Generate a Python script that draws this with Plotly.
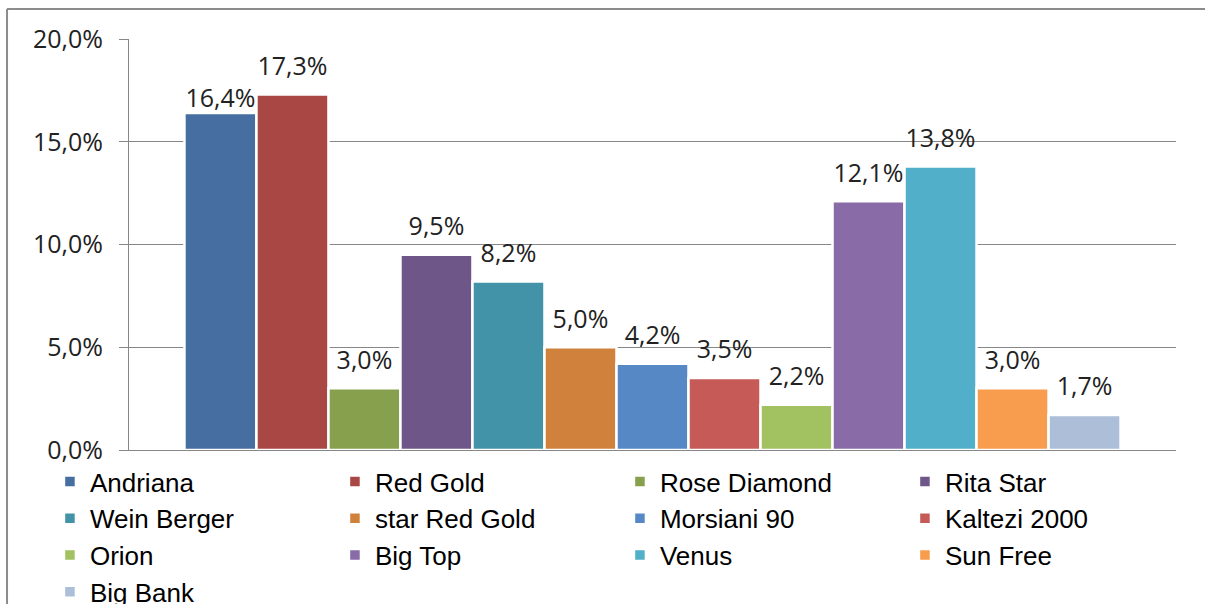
import plotly.graph_objects as go

# Share of each brand (fraction of total)
brands = ["Andriana", "Red Gold", "Rose Diamond", "Rita Star", "Wein Berger",
          "star Red Gold", "Morsiani 90", "Kaltezi 2000", "Orion", "Big Top",
          "Venus", "Sun Free", "Big Bank"]
shares = [0.164, 0.173, 0.030, 0.095, 0.082, 0.050, 0.042, 0.035, 0.022,
          0.121, 0.138, 0.030, 0.017]
colors = ["#466EA0", "#A84744", "#87A04E", "#6F5689", "#4293A8", "#D0823D",
          "#5588C4", "#C55A56", "#A2C160", "#886BA7", "#51AFC9", "#F89C4E",
          "#ADBED8"]
# invisible spacer marker size controlling how far each value label sits above its bar
label_lift = [0, 20, 20, 20, 20, 20, 20, 20, 20, 20, 20, 20, 20]

y_ticks = [0.0, 0.05, 0.10, 0.15, 0.20]
positions = list(range(len(brands)))

fig = go.Figure()
for pos, name, val, col in zip(positions, brands, shares, colors):
    fig.add_trace(go.Bar(
        x=[pos], y=[val], name=name, width=1,
        marker=dict(color=col, line=dict(color="white", width=2.5)),
    ))

# value labels above the bars
fig.add_trace(go.Scatter(
    x=positions, y=shares, mode="markers+text",
    marker=dict(size=label_lift, opacity=0),
    texttemplate="%{y:.1%}", textposition="top center",
    textfont=dict(family="Open Sans", size=25, color="#222222"),
    showlegend=False, hoverinfo="skip", cliponaxis=False,
))

grid = "#878787"
# outer chart frame (left and top edges)
fig.add_shape(type="line", xref="paper", yref="paper",
              x0=-0.1165, x1=-0.1165, y0=-0.5, y1=1.073,
              line=dict(color="#8c8c8c", width=2))
fig.add_shape(type="line", xref="paper", yref="paper",
              x0=-0.1165, x1=1.2, y0=1.073, y1=1.073,
              line=dict(color="#8c8c8c", width=2))

fig.update_layout(
    width=1205, height=604,
    margin=dict(l=129, r=29, t=39, b=154, autoexpand=False),
    paper_bgcolor="white", plot_bgcolor="white",
    separators=",.",
    barmode="overlay",
    showlegend=True,
    legend=dict(
        orientation="h", x=-0.0755, xanchor="left", y=-0.0195, yanchor="top",
        font=dict(family="Liberation Sans", size=26, color="#000000"),
        entrywidth=240, entrywidthmode="pixels", traceorder="normal",
        bgcolor="rgba(0,0,0,0)",
    ),
    xaxis=dict(range=[-1.27, 13.27], showticklabels=False, showgrid=False,
               zeroline=False, showline=True, linecolor=grid, linewidth=1,
               ticks=""),
    yaxis=dict(range=[0, 0.2], tickvals=y_ticks, tickformat=".1%",
               showgrid=True, gridcolor=grid, gridwidth=1, zeroline=False,
               showline=True, linecolor=grid, linewidth=1,
               ticks="outside", ticklen=9, tickcolor=grid,
               ticklabelstandoff=11,
               tickfont=dict(family="Open Sans", size=25, color="#222222")),
)

fig.write_html("out.html")
